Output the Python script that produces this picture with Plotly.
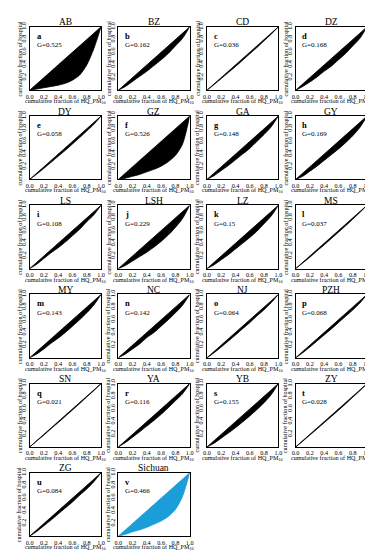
import plotly.graph_objects as go

# ---- data ----
regions = ["AB", "BZ", "CD", "DZ", "DY", "GZ", "GA", "GY", "LS", "LSH", "LZ", "MS",
           "MY", "NC", "NJ", "PZH", "SN", "YA", "YB", "ZY", "ZG", "Sichuan"]
letters = ["a", "b", "c", "d", "e", "f", "g", "h", "i", "j", "k", "l",
           "m", "n", "o", "p", "q", "r", "s", "t", "u", "v"]
gini = ["0.525", "0.162", "0.036", "0.168", "0.058", "0.526", "0.148", "0.169", "0.108", "0.229", "0.15", "0.037",
        "0.143", "0.142", "0.064", "0.068", "0.021", "0.116", "0.155", "0.028", "0.084", "0.466"]
x_frac = [0.0, 0.1, 0.2, 0.3, 0.4, 0.5, 0.6, 0.7, 0.8, 0.9, 1.0]
lorenz = {
    "AB":  [0, 0.02, 0.04, 0.06, 0.08, 0.11, 0.16, 0.24, 0.40, 0.66, 1],
    "BZ":  [0, 0.06, 0.14, 0.22, 0.30, 0.39, 0.48, 0.58, 0.70, 0.82, 1],
    "CD":  [0, 0.09, 0.185, 0.28, 0.375, 0.475, 0.575, 0.675, 0.78, 0.885, 1],
    "DZ":  [0, 0.06, 0.13, 0.21, 0.30, 0.38, 0.48, 0.58, 0.70, 0.82, 1],
    "DY":  [0, 0.085, 0.175, 0.27, 0.365, 0.46, 0.56, 0.66, 0.765, 0.87, 1],
    "GZ":  [0, 0.02, 0.05, 0.08, 0.12, 0.16, 0.21, 0.28, 0.38, 0.56, 1],
    "GA":  [0, 0.06, 0.14, 0.22, 0.31, 0.40, 0.49, 0.60, 0.71, 0.83, 1],
    "GY":  [0, 0.05, 0.13, 0.21, 0.30, 0.39, 0.48, 0.58, 0.69, 0.82, 1],
    "LS":  [0, 0.07, 0.16, 0.25, 0.33, 0.42, 0.52, 0.62, 0.74, 0.85, 1],
    "LSH": [0, 0.05, 0.12, 0.19, 0.26, 0.34, 0.43, 0.53, 0.65, 0.79, 1],
    "LZ":  [0, 0.06, 0.14, 0.22, 0.31, 0.40, 0.49, 0.59, 0.71, 0.83, 1],
    "MS":  [0, 0.09, 0.18, 0.28, 0.375, 0.475, 0.575, 0.675, 0.78, 0.885, 1],
    "MY":  [0, 0.06, 0.14, 0.23, 0.31, 0.40, 0.50, 0.60, 0.71, 0.835, 1],
    "NC":  [0, 0.06, 0.14, 0.22, 0.32, 0.40, 0.50, 0.60, 0.71, 0.83, 1],
    "NJ":  [0, 0.08, 0.17, 0.265, 0.36, 0.46, 0.555, 0.66, 0.76, 0.87, 1],
    "PZH": [0, 0.08, 0.17, 0.265, 0.36, 0.455, 0.555, 0.655, 0.755, 0.865, 1],
    "SN":  [0, 0.095, 0.19, 0.29, 0.385, 0.485, 0.585, 0.685, 0.79, 0.89, 1],
    "YA":  [0, 0.07, 0.155, 0.24, 0.33, 0.42, 0.515, 0.62, 0.73, 0.84, 1],
    "YB":  [0, 0.06, 0.14, 0.22, 0.305, 0.395, 0.49, 0.59, 0.70, 0.825, 1],
    "ZY":  [0, 0.092, 0.188, 0.285, 0.382, 0.48, 0.58, 0.68, 0.785, 0.888, 1],
    "ZG":  [0, 0.075, 0.165, 0.255, 0.35, 0.445, 0.54, 0.645, 0.745, 0.86, 1],
    "Sichuan": [0, 0.03, 0.07, 0.10, 0.14, 0.19, 0.24, 0.31, 0.42, 0.63, 1],
}
x_ticks = [0.0, 0.2, 0.4, 0.6, 0.8, 1.0]
x_ticktext = ["0.0", "0.2", "0.4", "0.6", "0.8", "1.0"]
y_ticks = [0.2, 0.4, 0.6, 0.8, 1.0]
y_ticktext = ["0.2", "0.4", "0.6", "0.8", "1.0"]

# ---- layout geometry ----
W, H = 373, 550
FONT = "Liberation Serif, Times New Roman, serif"

def px(x):
    return x / W

def py(y):
    return 1 - y / H

fig = go.Figure()
annotations = []
layout_axes = {}

for i, reg in enumerate(regions):
    r, c = divmod(i, 4)
    L = 18 + 90.6 * c
    R = L + 73
    T = 14 + 90 * r
    B = 78 + 90 * r
    n = i + 1
    xa = "x" if n == 1 else f"x{n}"
    ya = "y" if n == 1 else f"y{n}"
    xkey = "xaxis" if n == 1 else f"xaxis{n}"
    ykey = "yaxis" if n == 1 else f"yaxis{n}"
    color = "#1B9DD9" if reg == "Sichuan" else "black"

    fig.add_trace(go.Scatter(x=[0, 1], y=[0, 1], mode="lines",
                             line=dict(color=color, width=0.8),
                             xaxis=xa, yaxis=ya, showlegend=False, hoverinfo="skip"))
    fig.add_trace(go.Scatter(x=x_frac, y=lorenz[reg], mode="lines",
                             line=dict(color=color, width=0.8, shape="spline", smoothing=0.8),
                             fill="tonexty", fillcolor=color,
                             xaxis=xa, yaxis=ya, showlegend=False))

    common = dict(range=[0, 1], showline=True, mirror=True, linecolor="black", linewidth=1,
                  showgrid=False, zeroline=False, ticks="",
                  tickfont=dict(family=FONT, size=6.2, color="black"))
    layout_axes[xkey] = dict(common, domain=[px(L), px(R)], anchor=ya,
                             tickvals=x_ticks, ticktext=x_ticktext, ticklabelstandoff=0)
    layout_axes[ykey] = dict(common, domain=[py(B), py(T)], anchor=xa,
                             tickvals=y_ticks, ticktext=y_ticktext, tickangle=-90,
                             ticklabelstandoff=0)

    annotations.append(dict(text=reg, x=px((L + R) / 2), y=py(T - 4.5), xref="paper", yref="paper",
                            showarrow=False, font=dict(family=FONT, size=9.5, color="black"),
                            xanchor="center", yanchor="middle"))
    annotations.append(dict(text=f"<b>{letters[i]}</b>", x=px(L + 5), y=py(T + 9), xref="paper", yref="paper",
                            showarrow=False, font=dict(family=FONT, size=8.5, color="black"),
                            xanchor="left", yanchor="middle"))
    annotations.append(dict(text=f"G={gini[i]}", x=px(L + 5), y=py(T + 18.5), xref="paper", yref="paper",
                            showarrow=False, font=dict(family=FONT, size=7, color="black"),
                            xanchor="left", yanchor="middle"))
    annotations.append(dict(text="cumulative fraction of HQ_PM<sub>10</sub>", x=px((L + R) / 2), y=py(B + 11.5),
                            xref="paper", yref="paper", showarrow=False,
                            font=dict(family=FONT, size=6.1, color="black"),
                            xanchor="center", yanchor="middle"))
    annotations.append(dict(text="cumulative fraction of hospital", x=px(L - 10), y=py((T + B) / 2),
                            xref="paper", yref="paper", showarrow=False, textangle=-90,
                            font=dict(family=FONT, size=6.1, color="black"),
                            xanchor="center", yanchor="middle"))

fig.update_layout(width=W, height=H, margin=dict(l=0, r=0, t=0, b=0),
                  paper_bgcolor="white", plot_bgcolor="white",
                  annotations=annotations, **layout_axes)

fig.write_html("out.html")
